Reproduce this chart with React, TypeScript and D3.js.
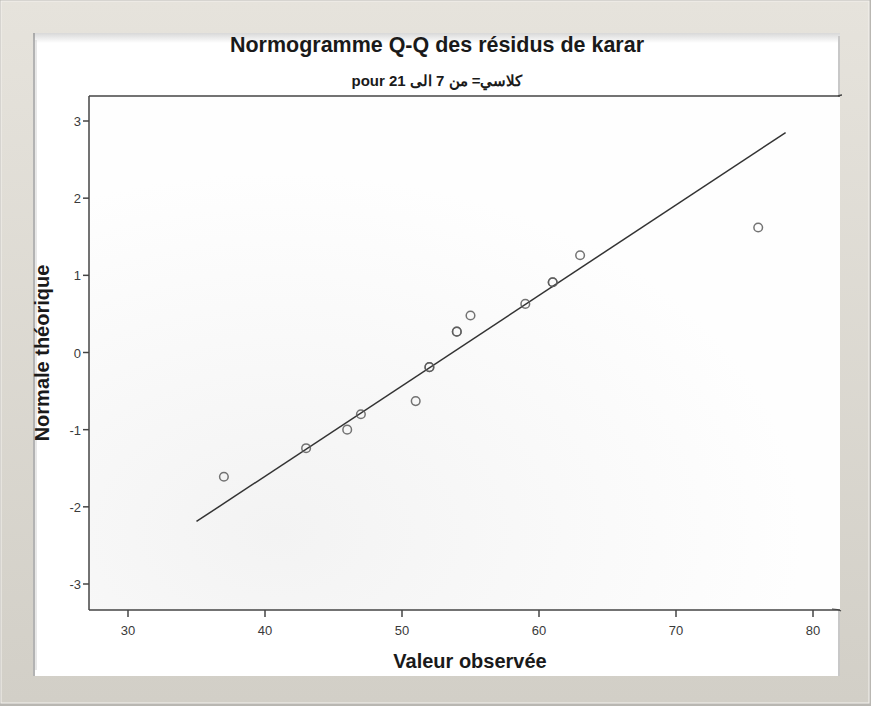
import React from 'react';
import * as d3 from 'd3';

// observed values and theoretical normal quantiles (ties drawn twice, they look darker)
const observed = [37, 43, 46, 47, 51, 52, 52, 54, 54, 55, 59, 61, 61, 63, 76];
const expected = [-1.61, -1.24, -1.0, -0.8, -0.63, -0.19, -0.19, 0.27, 0.27, 0.48, 0.63, 0.91, 0.91, 1.26, 1.62];
const refLineX = [35, 78];
const refLineY = [-2.19, 2.85];
const xTicks = [30, 40, 50, 60, 70, 80];
const yTicks = [-3, -2, -1, 0, 1, 2, 3];

const W = 871;
const H = 706;
const margin = { left: 89, top: 96, right: 840, bottom: 610 };

export default function App() {
  const x = d3.scaleLinear().domain([30, 80]).range([128, 813]);
  const y = d3.scaleLinear().domain([-3, 3]).range([584, 121]);

  const line = d3.line<number>()
    .x((_, i) => x(refLineX[i]))
    .y(d => y(d));

  const font = 'Liberation Sans, Arial, sans-serif';

  return (
    <svg width={W} height={H} style={{ position: 'absolute', left: 0, top: 0 }}>
      <defs>
        <linearGradient id="frame" x1="0" y1="0" x2="0" y2="1">
          <stop offset="0%" stopColor="#e6e3dc" />
          <stop offset="100%" stopColor="#d2cfc7" />
        </linearGradient>
        <linearGradient id="paneltop" x1="0" y1="0" x2="0" y2="1">
          <stop offset="0%" stopColor="#d8d8d8" />
          <stop offset="100%" stopColor="#ffffff" />
        </linearGradient>
        <radialGradient id="plotbg" cx="0.25" cy="0.85" r="0.7">
          <stop offset="0%" stopColor="#f3f3f3" />
          <stop offset="100%" stopColor="#fefefe" />
        </radialGradient>
      </defs>

      {/* outer frame */}
      <rect x={0} y={0} width={W} height={H} fill="#b9b7b2" />
      <rect x={1} y={1} width={W - 3} height={H - 4} fill="url(#frame)" stroke="#f4f2ee" strokeWidth={1} />

      {/* inner panel */}
      <rect x={33} y={33} width={807} height={643} fill="#ffffff" />
      <rect x={33} y={33} width={807} height={10} fill="url(#paneltop)" />
      <line x1={34} y1={33} x2={34} y2={676} stroke="#9a9a9a" strokeWidth={1.5} />
      <line x1={36} y1={40} x2={36} y2={670} stroke="#d0d0d0" strokeWidth={1} />
      <line x1={839} y1={36} x2={839} y2={676} stroke="#c8c8c8" strokeWidth={2} />

      {/* plot area */}
      <rect x={margin.left} y={margin.top} width={margin.right - margin.left} height={margin.bottom - margin.top} fill="url(#plotbg)" />

      <text x={437} y={52} textAnchor="middle" fontFamily={font} fontWeight="bold" fontSize={22} fill="#1a1a1a"
        textLength={414} lengthAdjust="spacingAndGlyphs">
        Normogramme Q-Q des résidus de karar
      </text>
      <text x={437} y={86} textAnchor="middle" fontFamily={font} fontWeight="bold" fontSize={15} fill="#1a1a1a" direction="ltr">
        pour كلاسي= من 7 الى 21
      </text>

      {/* axes frame */}
      <line x1={margin.left} y1={margin.top} x2={margin.right} y2={margin.top} stroke="#444" strokeWidth={1.5} />
      <path d={`M${margin.right - 2},${margin.top} Q${margin.right + 1},${margin.top - 1} ${margin.right + 2},${margin.top - 1}`} fill="none" stroke="#444" strokeWidth={1.5} />
      <line x1={margin.left} y1={margin.bottom} x2={margin.right} y2={margin.bottom} stroke="#444" strokeWidth={1.5} />
      <path d={`M${margin.right - 8},${margin.bottom - 1} Q${margin.right - 2},${margin.bottom - 1} ${margin.right + 1},${margin.bottom + 1}`} fill="none" stroke="#444" strokeWidth={1.2} />
      <line x1={margin.left} y1={margin.top} x2={margin.left} y2={margin.bottom} stroke="#444" strokeWidth={1.5} />

      {yTicks.map(t => (
        <g key={`y${t}`}>
          <line x1={margin.left - 6} x2={margin.left} y1={y(t)} y2={y(t)} stroke="#444" strokeWidth={1.5} />
          <text x={margin.left - 8} y={y(t) + 5} textAnchor="end" fontFamily={font} fontSize={13} fill="#3a3a3a">{t}</text>
        </g>
      ))}
      {xTicks.map(t => (
        <g key={`x${t}`}>
          <line x1={x(t)} x2={x(t)} y1={margin.bottom} y2={margin.bottom + 7} stroke="#444" strokeWidth={1.5} />
          <text x={x(t)} y={margin.bottom + 25} textAnchor="middle" fontFamily={font} fontSize={13} fill="#3a3a3a">{t}</text>
        </g>
      ))}

      <text x={470} y={668} textAnchor="middle" fontFamily={font} fontWeight="bold" fontSize={20} fill="#1a1a1a">
        Valeur observée
      </text>
      <text transform={`translate(49,${(margin.top + margin.bottom) / 2}) rotate(-90)`} textAnchor="middle" fontFamily={font} fontWeight="bold" fontSize={20} fill="#1a1a1a">
        Normale théorique
      </text>

      {/* reference line */}
      <path d={line(refLineY) || ''} fill="none" stroke="#333" strokeWidth={1.5} />

      {observed.map((v, i) => (
        <circle key={i} cx={x(v)} cy={y(expected[i])} r={4.3} fill="none" stroke="#5a5a5a" strokeWidth={1.5} strokeOpacity={0.85} />
      ))}
    </svg>
  );
}
